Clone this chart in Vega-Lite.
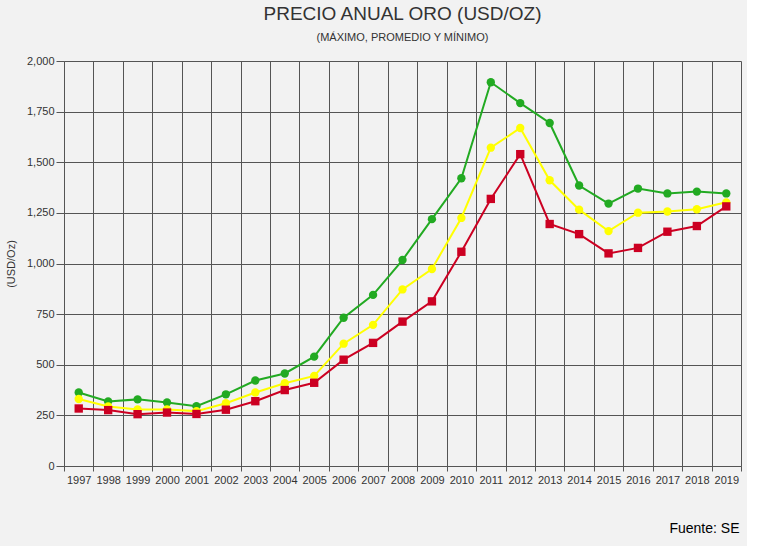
{
  "$schema": "https://vega.github.io/schema/vega-lite/v6.json",
  "width": 677,
  "height": 405,
  "background": "#f2f2f2",
  "padding": {"left": 5, "top": 5, "right": 5, "bottom": 2},
  "config": {"font": "Liberation Sans", "view": {"stroke": null}},
  "title": {
    "text": "PRECIO ANUAL ORO (USD/OZ)",
    "subtitle": "(MÁXIMO, PROMEDIO Y MÍNIMO)",
    "fontSize": 19,
    "fontWeight": "normal",
    "color": "#333",
    "subtitleFontSize": 11,
    "subtitleColor": "#333",
    "subtitlePadding": 8,
    "offset": 12
  },
  "data": {
    "values": [
      {"year": "1997", "serie": "Precio Máximo", "v": 363}, {"year": "1998", "serie": "Precio Máximo", "v": 319},
      {"year": "1999", "serie": "Precio Máximo", "v": 329}, {"year": "2000", "serie": "Precio Máximo", "v": 314},
      {"year": "2001", "serie": "Precio Máximo", "v": 295}, {"year": "2002", "serie": "Precio Máximo", "v": 354},
      {"year": "2003", "serie": "Precio Máximo", "v": 422}, {"year": "2004", "serie": "Precio Máximo", "v": 457},
      {"year": "2005", "serie": "Precio Máximo", "v": 540}, {"year": "2006", "serie": "Precio Máximo", "v": 732},
      {"year": "2007", "serie": "Precio Máximo", "v": 845}, {"year": "2008", "serie": "Precio Máximo", "v": 1017},
      {"year": "2009", "serie": "Precio Máximo", "v": 1219}, {"year": "2010", "serie": "Precio Máximo", "v": 1421},
      {"year": "2011", "serie": "Precio Máximo", "v": 1895}, {"year": "2012", "serie": "Precio Máximo", "v": 1792},
      {"year": "2013", "serie": "Precio Máximo", "v": 1694}, {"year": "2014", "serie": "Precio Máximo", "v": 1385},
      {"year": "2015", "serie": "Precio Máximo", "v": 1296}, {"year": "2016", "serie": "Precio Máximo", "v": 1370},
      {"year": "2017", "serie": "Precio Máximo", "v": 1346}, {"year": "2018", "serie": "Precio Máximo", "v": 1355},
      {"year": "2019", "serie": "Precio Máximo", "v": 1346},
      {"year": "1997", "serie": "Precio Promedio", "v": 331}, {"year": "1998", "serie": "Precio Promedio", "v": 294},
      {"year": "1999", "serie": "Precio Promedio", "v": 279}, {"year": "2000", "serie": "Precio Promedio", "v": 279},
      {"year": "2001", "serie": "Precio Promedio", "v": 271}, {"year": "2002", "serie": "Precio Promedio", "v": 310},
      {"year": "2003", "serie": "Precio Promedio", "v": 363}, {"year": "2004", "serie": "Precio Promedio", "v": 409},
      {"year": "2005", "serie": "Precio Promedio", "v": 445}, {"year": "2006", "serie": "Precio Promedio", "v": 604},
      {"year": "2007", "serie": "Precio Promedio", "v": 697}, {"year": "2008", "serie": "Precio Promedio", "v": 872},
      {"year": "2009", "serie": "Precio Promedio", "v": 973}, {"year": "2010", "serie": "Precio Promedio", "v": 1225},
      {"year": "2011", "serie": "Precio Promedio", "v": 1572}, {"year": "2012", "serie": "Precio Promedio", "v": 1669},
      {"year": "2013", "serie": "Precio Promedio", "v": 1411}, {"year": "2014", "serie": "Precio Promedio", "v": 1266},
      {"year": "2015", "serie": "Precio Promedio", "v": 1160}, {"year": "2016", "serie": "Precio Promedio", "v": 1251},
      {"year": "2017", "serie": "Precio Promedio", "v": 1257}, {"year": "2018", "serie": "Precio Promedio", "v": 1268},
      {"year": "2019", "serie": "Precio Promedio", "v": 1302},
      {"year": "1997", "serie": "Precio Mínimo", "v": 284}, {"year": "1998", "serie": "Precio Mínimo", "v": 276},
      {"year": "1999", "serie": "Precio Mínimo", "v": 256}, {"year": "2000", "serie": "Precio Mínimo", "v": 264},
      {"year": "2001", "serie": "Precio Mínimo", "v": 257}, {"year": "2002", "serie": "Precio Mínimo", "v": 278},
      {"year": "2003", "serie": "Precio Mínimo", "v": 320}, {"year": "2004", "serie": "Precio Mínimo", "v": 375},
      {"year": "2005", "serie": "Precio Mínimo", "v": 411}, {"year": "2006", "serie": "Precio Mínimo", "v": 525},
      {"year": "2007", "serie": "Precio Mínimo", "v": 608}, {"year": "2008", "serie": "Precio Mínimo", "v": 713},
      {"year": "2009", "serie": "Precio Mínimo", "v": 813}, {"year": "2010", "serie": "Precio Mínimo", "v": 1058},
      {"year": "2011", "serie": "Precio Mínimo", "v": 1319}, {"year": "2012", "serie": "Precio Mínimo", "v": 1540},
      {"year": "2013", "serie": "Precio Mínimo", "v": 1195}, {"year": "2014", "serie": "Precio Mínimo", "v": 1145},
      {"year": "2015", "serie": "Precio Mínimo", "v": 1050}, {"year": "2016", "serie": "Precio Mínimo", "v": 1077},
      {"year": "2017", "serie": "Precio Mínimo", "v": 1157}, {"year": "2018", "serie": "Precio Mínimo", "v": 1185},
      {"year": "2019", "serie": "Precio Mínimo", "v": 1282}
    ]
  },
  "encoding": {
    "x": {
      "field": "year",
      "type": "ordinal",
      "scale": {"type": "band", "paddingInner": 0, "paddingOuter": 0},
      "axis": {
        "title": "Fuente: SE",
        "titleAnchor": "end",
        "titleAlign": "right",
        "titleFontSize": 14,
        "titleFontWeight": "normal",
        "titleColor": "#000",
        "titleY": 55,
        "titleX": 675,
        "labelAngle": 0,
        "labelFontSize": 11,
        "labelColor": "#333",
        "grid": true,
        "gridColor": "#555",
        "gridWidth": 1,
        "bandPosition": 0,
        "tickBand": "extent",
        "domainColor": "#555",
        "tickColor": "#555",
        "labelPadding": 3
      }
    },
    "y": {
      "field": "v",
      "type": "quantitative",
      "scale": {"domain": [0, 2000]},
      "axis": {
        "title": "(USD/Oz)",
        "titleFontSize": 11,
        "titleFontWeight": "normal",
        "titleColor": "#333",
        "labelFontSize": 11,
        "labelColor": "#333",
        "format": ",.0f",
        "values": [0, 250, 500, 750, 1000, 1250, 1500, 1750, 2000],
        "gridColor": "#555",
        "domainColor": "#555",
        "tickColor": "#555",
        "tickSize": 8,
        "titlePadding": 10
      }
    },
    "color": {
      "field": "serie",
      "type": "nominal",
      "sort": ["Precio Máximo", "Precio Promedio", "Precio Mínimo"],
      "scale": {"domain": ["Precio Máximo", "Precio Promedio", "Precio Mínimo"], "range": ["#22aa22", "#ffff00", "#cc0022"]},
      "legend": {
        "orient": "bottom",
        "direction": "horizontal",
        "title": null,
        "labelFontSize": 12,
        "labelFontWeight": "bold",
        "labelColor": "#333",
        "columnPadding": 30,
        "offset": 20
      }
    },
    "shape": {
      "field": "serie",
      "type": "nominal",
      "scale": {"domain": ["Precio Máximo", "Precio Promedio", "Precio Mínimo"], "range": ["circle", "circle", "square"]},
      "legend": null
    }
  },
  "layer": [
    {"mark": {"type": "line", "strokeWidth": 2}},
    {"mark": {"type": "point", "filled": true, "size": 70, "opacity": 1}}
  ]
}
